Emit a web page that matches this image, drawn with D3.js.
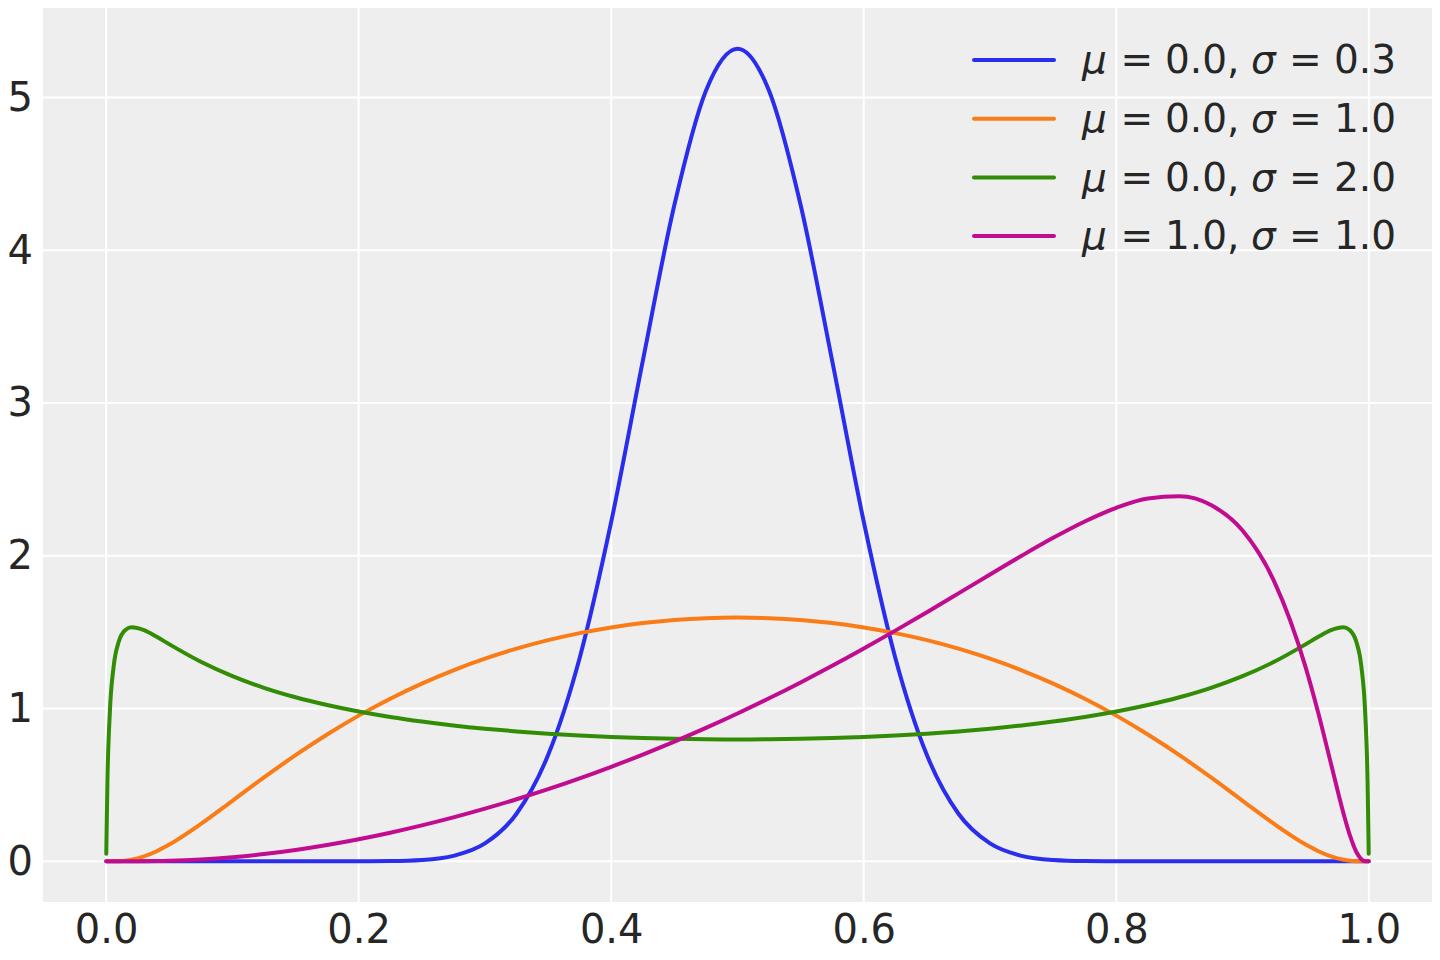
<!DOCTYPE html>
<html>
<head>
<meta charset="utf-8">
<script src="https://cdn.jsdelivr.net/npm/d3@7"></script>
<style>
  html, body { margin: 0; padding: 0; background: #ffffff; }
  svg { display: block; font-family: "DejaVu Sans", sans-serif; }
</style>
</head>
<body>
<svg id="chart" width="1440" height="960"></svg>
<script>
// x positions at which the densities were read
const xValues = [0.0001, 0.001, 0.003, 0.006, 0.01, 0.015, 0.02, 0.03, 0.04, 0.05, 0.075,
  0.1, 0.125, 0.15, 0.175, 0.2, 0.225, 0.25, 0.275, 0.3, 0.325, 0.35, 0.375, 0.4, 0.425, 0.45, 0.475,
  0.5, 0.525, 0.55, 0.575, 0.6, 0.625, 0.65, 0.675, 0.7, 0.725, 0.75, 0.775, 0.8, 0.825, 0.85, 0.875,
  0.9, 0.925, 0.95, 0.96, 0.97, 0.98, 0.985, 0.99, 0.994, 0.997, 0.999, 0.9999];

// mu = 0.0, sigma = 0.3
const seriesA = [0, 0, 0, 0, 0, 0, 0, 0, 0, 0, 0,
  0, 0, 0, 0, 0.0002, 0.0016, 0.0087, 0.0360, 0.1173, 0.3118, 0.6957, 1.3316, 2.2226, 3.2752, 4.2955, 5.0439,
  5.3192, 5.0439, 4.2955, 3.2752, 2.2226, 1.3316, 0.6957, 0.3118, 0.1173, 0.0360, 0.0087, 0.0016, 0.0002, 0, 0, 0,
  0, 0, 0, 0, 0, 0, 0, 0, 0, 0, 0, 0];

// mu = 0.0, sigma = 1.0
const seriesB = [0, 0, 0, 0.0001, 0.0011, 0.0043, 0.0105, 0.0326, 0.0666, 0.1101, 0.2451,
  0.3965, 0.5493, 0.6951, 0.8304, 0.9538, 1.0648, 1.1637, 1.2507, 1.3267, 1.3922, 1.4478, 1.4940, 1.5311, 1.5596, 1.5797, 1.5918,
  1.5958, 1.5918, 1.5797, 1.5596, 1.5311, 1.4940, 1.4478, 1.3922, 1.3267, 1.2507, 1.1637, 1.0648, 0.9538, 0.8304, 0.6951, 0.5493,
  0.3965, 0.2451, 0.1101, 0.0666, 0.0326, 0.0105, 0.0043, 0.0011, 0.0001, 0, 0, 0];

// mu = 0.0, sigma = 2.0
const seriesC = [0.0497, 0.5140, 0.9863, 1.2793, 1.4386, 1.5128, 1.5326, 1.5137, 1.4698, 1.4210, 1.3062,
  1.2122, 1.1360, 1.0740, 1.0230, 0.9805, 0.9448, 0.9149, 0.8896, 0.8683, 0.8505, 0.8358, 0.8238, 0.8142, 0.8070, 0.8019, 0.7989,
  0.7979, 0.7989, 0.8019, 0.8070, 0.8142, 0.8238, 0.8358, 0.8505, 0.8683, 0.8896, 0.9149, 0.9448, 0.9805, 1.0230, 1.0740, 1.1360,
  1.2122, 1.3062, 1.4210, 1.4698, 1.5137, 1.5326, 1.5128, 1.4386, 1.2793, 0.9863, 0.5140, 0.0497];

// mu = 1.0, sigma = 1.0
const seriesD = [0, 0, 0, 0, 0, 0, 0.0001, 0.0006, 0.0017, 0.0035, 0.0121,
  0.0267, 0.0476, 0.0744, 0.1068, 0.1446, 0.1875, 0.2353, 0.2878, 0.3449, 0.4066, 0.4729, 0.5437, 0.6191, 0.6992, 0.7839, 0.8735,
  0.9679, 1.0671, 1.1711, 1.2798, 1.3930, 1.5102, 1.6308, 1.7539, 1.8777, 2.0000, 2.1174, 2.2246, 2.3141, 2.3746, 2.3890, 2.3318,
  2.1649, 1.8326, 1.2684, 0.9692, 0.6393, 0.3110, 0.1695, 0.0629, 0.0144, 0.0013, 0, 0];

const muLabels = ["0.0", "0.0", "0.0", "1.0"];
const sigmaLabels = ["0.3", "1.0", "2.0", "1.0"];
const seriesColors = ["#2a2eec", "#fa7c17", "#328c06", "#c10c90"];

const xTicks = [0.0, 0.2, 0.4, 0.6, 0.8, 1.0];
const yTicks = [0, 1, 2, 3, 4, 5];

// ---- layout ----
const svg = d3.select("#chart");
const plot = { left: 43, right: 1432, top: 8, bottom: 902 };

const allY = seriesA.concat(seriesB, seriesC, seriesD);
const yMax = d3.max(allY), yMin = 0;
const xPad = (1 - 0) * 0.05;
const yPad = (yMax - yMin) * 0.05;

const x = d3.scaleLinear().domain([0 - xPad, 1 + xPad]).range([plot.left, plot.right]);
const y = d3.scaleLinear().domain([yMin - yPad, yMax + yPad]).range([plot.bottom, plot.top]);

// background
svg.append("rect")
  .attr("x", plot.left).attr("y", plot.top)
  .attr("width", plot.right - plot.left).attr("height", plot.bottom - plot.top)
  .attr("fill", "#eeeeee");

// grid
const grid = svg.append("g");
grid.selectAll("line.gx").data(xTicks).enter().append("line")
  .attr("x1", d => x(d)).attr("x2", d => x(d))
  .attr("y1", plot.top).attr("y2", plot.bottom)
  .attr("stroke", "#ffffff").attr("stroke-width", 2);
grid.selectAll("line.gy").data(yTicks).enter().append("line")
  .attr("y1", d => y(d)).attr("y2", d => y(d))
  .attr("x1", plot.left).attr("x2", plot.right)
  .attr("stroke", "#ffffff").attr("stroke-width", 2);

// axes (tick labels only)
const xAxis = d3.axisBottom(x).tickValues(xTicks).tickFormat(d3.format(".1f")).tickSize(0).tickPadding(13);
const gx = svg.append("g").attr("transform", `translate(0,${plot.bottom})`).call(xAxis);
gx.select(".domain").remove();
gx.selectAll("text").attr("font-size", 40).attr("fill", "#262626").attr("font-family", "DejaVu Sans");

const yAxis = d3.axisLeft(y).tickValues(yTicks).tickFormat(d3.format("d")).tickSize(0).tickPadding(10);
const gy = svg.append("g").attr("transform", `translate(${plot.left},0)`).call(yAxis);
gy.select(".domain").remove();
gy.selectAll("text").attr("font-size", 40).attr("fill", "#262626").attr("font-family", "DejaVu Sans");

// lines
const allSeries = [seriesA, seriesB, seriesC, seriesD];
const line = d3.line()
  .x((d, i) => x(xValues[i]))
  .y(d => y(d))
  .curve(d3.curveMonotoneX);

svg.append("g").selectAll("path").data(allSeries).enter().append("path")
  .attr("d", d => line(d))
  .attr("fill", "none")
  .attr("stroke", (d, i) => seriesColors[i])
  .attr("stroke-width", 4)
  .attr("stroke-linejoin", "round")
  .attr("stroke-linecap", "round");

// legend
const legend = svg.append("g")
  .attr("font-size", 39).attr("fill", "#262626").attr("font-family", "DejaVu Sans");
const legY0 = 60, legDy = 58.7;
muLabels.forEach((mu, i) => {
  const ly = legY0 + i * legDy;
  const by = ly + 13.3;
  legend.append("line")
    .attr("x1", 974).attr("x2", 1054).attr("y1", ly).attr("y2", ly)
    .attr("stroke", seriesColors[i]).attr("stroke-width", 4).attr("stroke-linecap", "round");
  legend.append("text").attr("x", 1082).attr("y", by).attr("font-style", "italic").text("μ");
  legend.append("text").attr("x", 1120.5).attr("y", by).text("=");
  legend.append("text").attr("x", 1165).attr("y", by).text(mu + ",");
  legend.append("text").attr("x", 1251).attr("y", by).attr("font-style", "italic").text("σ");
  legend.append("text").attr("x", 1289).attr("y", by).text("=");
  legend.append("text").attr("x", 1334).attr("y", by).text(sigmaLabels[i]);
});
</script>
</body>
</html>
